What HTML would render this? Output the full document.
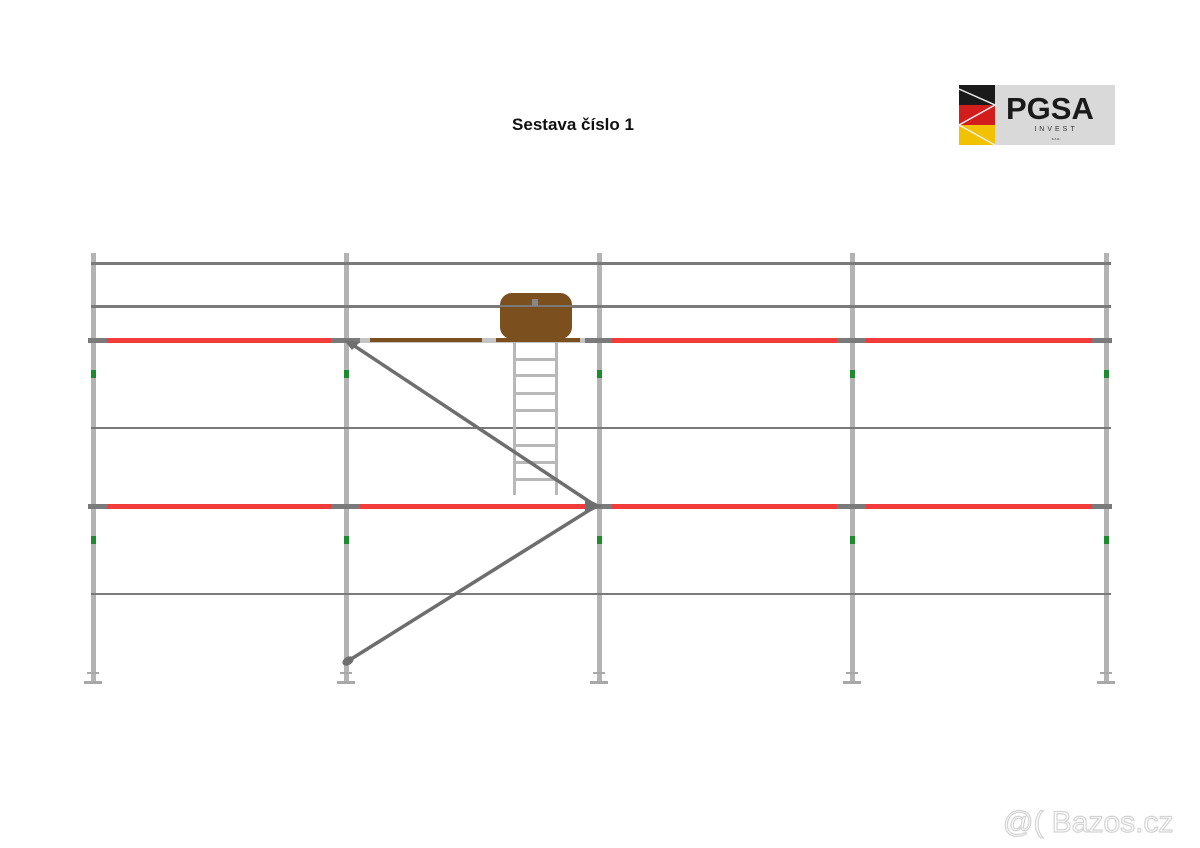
<!DOCTYPE html>
<html><head><meta charset="utf-8"><style>
html,body{margin:0;padding:0;background:#fff;width:1200px;height:848px;overflow:hidden}
svg{display:block}
</style></head><body>
<svg width="1200" height="848" viewBox="0 0 1200 848" xmlns="http://www.w3.org/2000/svg">
<rect width="1200" height="848" fill="#fff"/>
<text x="573" y="130" text-anchor="middle" font-family="Liberation Sans, sans-serif" font-weight="bold" font-size="17" fill="#111">Sestava číslo 1</text>
<!-- logo -->
<rect x="959" y="85" width="156" height="60" fill="#d9d9d9"/>
<rect x="959" y="85" width="36" height="20" fill="#1a1a1a"/>
<rect x="959" y="105" width="36" height="20" fill="#d31c1c"/>
<rect x="959" y="125" width="36" height="20" fill="#f2c200"/>
<polyline points="959,89 995,105 959,125 995,145" fill="none" stroke="#eee" stroke-width="1.5"/>
<text x="1006" y="119" font-family="Liberation Sans, sans-serif" font-weight="bold" font-size="31" fill="#1a1a1a">PGSA</text>
<text x="1056" y="131" text-anchor="middle" font-family="Liberation Sans, sans-serif" font-size="7" letter-spacing="3" fill="#333">INVEST</text>
<text x="1056" y="140" text-anchor="middle" font-family="Liberation Sans, sans-serif" font-size="4" fill="#333">s.r.o.</text>
<!-- posts -->
<g fill="#b3b3b3">
<rect x="91" y="253" width="5" height="430"/>
<rect x="344" y="253" width="5" height="430"/>
<rect x="597" y="253" width="5" height="430"/>
<rect x="850" y="253" width="5" height="430"/>
<rect x="1104" y="253" width="5" height="430"/>
</g>
<g fill="#a8a8a8">
<rect x="84" y="681" width="18" height="3"/><rect x="87" y="672" width="12" height="2"/>
<rect x="337" y="681" width="18" height="3"/><rect x="340" y="672" width="12" height="2"/>
<rect x="590" y="681" width="18" height="3"/><rect x="593" y="672" width="12" height="2"/>
<rect x="843" y="681" width="18" height="3"/><rect x="846" y="672" width="12" height="2"/>
<rect x="1097" y="681" width="18" height="3"/><rect x="1100" y="672" width="12" height="2"/>
</g>
<!-- green markers -->
<g fill="#1e8a2e">
<rect x="91" y="370" width="5" height="8"/><rect x="344" y="370" width="5" height="8"/><rect x="597" y="370" width="5" height="8"/><rect x="850" y="370" width="5" height="8"/><rect x="1104" y="370" width="5" height="8"/>
<rect x="91" y="536" width="5" height="8"/><rect x="344" y="536" width="5" height="8"/><rect x="597" y="536" width="5" height="8"/><rect x="850" y="536" width="5" height="8"/><rect x="1104" y="536" width="5" height="8"/>
</g>
<!-- rails -->
<g fill="#7a7a7a">
<rect x="91" y="262" width="1020" height="3"/>
<rect x="91" y="305" width="1020" height="3"/>
<rect x="91" y="427" width="1020" height="2"/>
<rect x="91" y="593" width="1020" height="2"/>
</g>
<!-- decks -->
<g>
<rect x="88" y="338" width="1024" height="5" fill="#7a7a7a"/>
<rect x="107" y="338" width="224" height="5" fill="#f23c3c"/>
<rect x="612" y="338" width="225" height="5" fill="#f23c3c"/>
<rect x="866" y="338" width="226" height="5" fill="#f23c3c"/>
<rect x="360" y="338" width="225" height="5" fill="#c4c4c4"/>
<rect x="370" y="338" width="112" height="4" fill="#7b4f1e"/>
<rect x="496" y="338" width="84" height="4" fill="#7b4f1e"/>
<rect x="88" y="504" width="1024" height="5" fill="#7a7a7a"/>
<rect x="107" y="504" width="224" height="5" fill="#f23c3c"/>
<rect x="360" y="504" width="225" height="5" fill="#f23c3c"/>
<rect x="612" y="504" width="225" height="5" fill="#f23c3c"/>
<rect x="866" y="504" width="226" height="5" fill="#f23c3c"/>
</g>
<!-- hatch box -->
<rect x="500" y="293" width="72" height="46" rx="12" fill="#7b4f1e"/>
<rect x="500" y="305" width="72" height="2" fill="#7a7a7a"/>
<rect x="532" y="299" width="6" height="7" fill="#888"/>
<!-- ladder -->
<g fill="#b8b8b8">
<rect x="513" y="342" width="3" height="153"/>
<rect x="555" y="342" width="3" height="153"/>
<rect x="515" y="358" width="41" height="3"/>
<rect x="515" y="374" width="41" height="3"/>
<rect x="515" y="392" width="41" height="3"/>
<rect x="515" y="409" width="41" height="3"/>
<rect x="515" y="444" width="41" height="3"/>
<rect x="515" y="461" width="41" height="3"/>
<rect x="515" y="478" width="41" height="3"/>
</g>
<!-- diagonals -->
<g stroke="#6e6e6e" stroke-width="3.5" stroke-linecap="round">
<line x1="350" y1="343" x2="596" y2="506"/>
<line x1="596" y1="506" x2="348" y2="661"/>
</g>
<polygon points="344,340 360,342 352,350" fill="#6e6e6e"/>
<polygon points="585,498 602,506 585,514" fill="#6e6e6e"/>
<ellipse cx="348" cy="661" rx="6" ry="4" fill="#6e6e6e" transform="rotate(-30 348 661)"/>
<text x="1003" y="832" font-family="Liberation Sans, sans-serif" font-size="30" fill="#fff" stroke="#d4d4d4" stroke-width="1.2">@( Bazos.cz</text>
</svg>
</body></html>
